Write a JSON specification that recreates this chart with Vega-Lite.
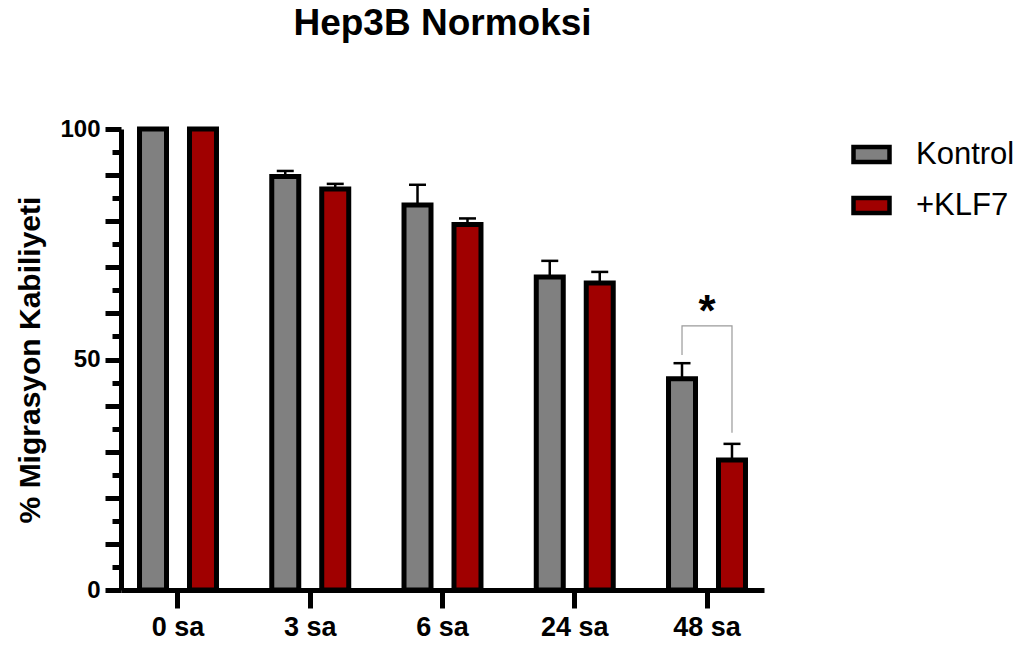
{
  "$schema": "https://vega.github.io/schema/vega-lite/v6.json",
  "autosize": {"type": "none"},
  "padding": {"left": 121, "top": 129, "right": 260, "bottom": 60},
  "width": 643,
  "height": 461,
  "background": "white",
  "config": {
    "view": {"stroke": null},
    "font": "Liberation Sans",
    "axis": {"domainColor": "black", "tickColor": "black", "labelColor": "black", "titleColor": "black", "grid": false}
  },
  "title": {
    "text": "Hep3B Normoksi",
    "fontSize": 37,
    "fontWeight": "bold",
    "color": "black",
    "anchor": "middle",
    "frame": "group",
    "offset": 74
  },
  "resolve": {"axis": {"y": "independent"}},
  "datasets": {
    "bars": [
      {"time": "0 sa", "group": "Kontrol", "value": 100, "hi": 100},
      {"time": "0 sa", "group": "+KLF7", "value": 100, "hi": 100},
      {"time": "3 sa", "group": "Kontrol", "value": 89.7, "hi": 90.9},
      {"time": "3 sa", "group": "+KLF7", "value": 87.0, "hi": 88.1},
      {"time": "6 sa", "group": "Kontrol", "value": 83.5, "hi": 87.9},
      {"time": "6 sa", "group": "+KLF7", "value": 79.3, "hi": 80.6},
      {"time": "24 sa", "group": "Kontrol", "value": 67.9, "hi": 71.4},
      {"time": "24 sa", "group": "+KLF7", "value": 66.6, "hi": 69.0},
      {"time": "48 sa", "group": "Kontrol", "value": 45.8, "hi": 49.2},
      {"time": "48 sa", "group": "+KLF7", "value": 28.2, "hi": 31.7}
    ],
    "bracket": [
      {"time": "48 sa", "group": "Kontrol", "y": 51.0, "step": 1},
      {"time": "48 sa", "group": "Kontrol", "y": 57.3, "step": 2},
      {"time": "48 sa", "group": "+KLF7", "y": 57.3, "step": 3},
      {"time": "48 sa", "group": "+KLF7", "y": 34.1, "step": 4}
    ],
    "stars": [
      {"time": "48 sa", "y": 57.3, "label": "*"}
    ]
  },
  "encoding": {
    "x": {
      "field": "time",
      "type": "nominal",
      "sort": ["0 sa", "3 sa", "6 sa", "24 sa", "48 sa"],
      "scale": {"paddingInner": 0.418, "paddingOuter": 0.14},
      "axis": {
        "title": null,
        "labelAngle": 0,
        "labelFontSize": 27,
        "labelFontWeight": "bold",
        "labelPadding": 6,
        "tickSize": 18,
        "tickWidth": 5,
        "domainWidth": 5
      }
    }
  },
  "layer": [
    {
      "data": {"name": "bars"},
      "mark": {"type": "bar", "stroke": "black", "strokeWidth": 5},
      "encoding": {
        "xOffset": {
          "field": "group",
          "type": "nominal",
          "sort": ["Kontrol", "+KLF7"],
          "scale": {"domain": ["Kontrol", "+KLF7"], "paddingInner": 0.46, "paddingOuter": 0}
        },
        "y": {
          "field": "value",
          "type": "quantitative",
          "scale": {"domain": [0, 100], "nice": false},
          "axis": {
            "orient": "left",
            "title": "% Migrasyon Kabiliyeti",
            "titleFontSize": 30,
            "titleFontWeight": "bold",
            "titlePadding": 14,
            "values": [0, 10, 20, 30, 40, 50, 60, 70, 80, 90, 100],
            "labelExpr": "datum.value % 50 === 0 ? datum.label : ''",
            "labelFontSize": 24,
            "labelFontWeight": "bold",
            "labelPadding": 5,
            "labelOverlap": false,
            "tickSize": 16,
            "tickWidth": 5,
            "domainWidth": 5,
            "encode": {"ticks": {"update": {"x2": {"signal": "datum.value % 50 === 0 ? -16 : -9"}}}}
          }
        },
        "fill": {
          "field": "group",
          "type": "nominal",
          "scale": {"domain": ["Kontrol", "+KLF7"], "range": ["#808080", "#a00000"]},
          "legend": {
            "title": null,
            "orient": "none",
            "legendX": 730,
            "legendY": 5,
            "padding": 0,
            "symbolType": "M-1,-0.42H1V0.42H-1Z",
            "symbolSize": 1296,
            "symbolStrokeColor": "black",
            "symbolStrokeWidth": 4.5,
            "symbolOpacity": 1,
            "labelFontSize": 31,
            "labelColor": "black",
            "labelOffset": 24,
            "rowPadding": 13
          }
        }
      }
    },
    {
      "data": {"name": "bars"},
      "transform": [{"filter": "datum.hi > datum.value"}],
      "mark": {"type": "rule", "color": "black", "strokeWidth": 2.5},
      "encoding": {
        "xOffset": {"field": "group", "type": "nominal", "sort": ["Kontrol", "+KLF7"]},
        "y": {"field": "value", "type": "quantitative", "axis": null},
        "y2": {"field": "hi"}
      }
    },
    {
      "data": {"name": "bars"},
      "transform": [{"filter": "datum.hi > datum.value"}],
      "mark": {"type": "tick", "color": "black", "size": 17, "thickness": 2.5, "opacity": 1},
      "encoding": {
        "xOffset": {"field": "group", "type": "nominal", "sort": ["Kontrol", "+KLF7"]},
        "y": {
          "field": "hi",
          "type": "quantitative",
          "axis": {
            "orient": "left",
            "title": null,
            "values": [5, 15, 25, 35, 45, 55, 65, 75, 85, 95],
            "labels": false,
            "domain": false,
            "tickSize": 9,
            "tickWidth": 5
          }
        }
      }
    },
    {
      "data": {"name": "bracket"},
      "mark": {"type": "line", "color": "#9a9a9a", "strokeWidth": 1.2},
      "encoding": {
        "xOffset": {"field": "group", "type": "nominal", "sort": ["Kontrol", "+KLF7"]},
        "y": {"field": "y", "type": "quantitative", "axis": null},
        "order": {"field": "step", "type": "quantitative"}
      }
    },
    {
      "data": {"name": "stars"},
      "mark": {"type": "text", "fontSize": 44, "fontWeight": "bold", "color": "black", "baseline": "alphabetic", "dy": 0},
      "encoding": {
        "y": {"field": "y", "type": "quantitative", "axis": null},
        "text": {"field": "label"}
      }
    }
  ]
}
